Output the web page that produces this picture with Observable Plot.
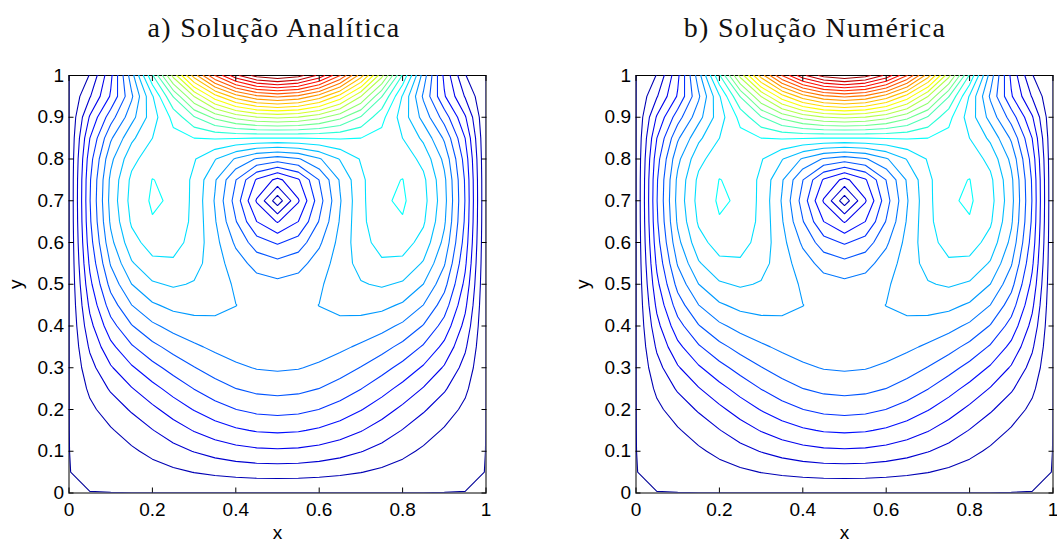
<!DOCTYPE html>
<html>
<head>
<meta charset="utf-8">
<script src="https://cdn.jsdelivr.net/npm/d3@7"></script>
<script src="https://cdn.jsdelivr.net/npm/@observablehq/plot@0.6"></script>
<style>
html, body { margin: 0; padding: 0; background: #fff; width: 1057px; height: 542px; overflow: hidden; }
.panel { position: absolute; top: 0; width: 490px; height: 542px; }
.panel svg { position: absolute; left: 0; top: 50px; overflow: visible; }
.title { position: absolute; top: 14px; font-family: "Liberation Serif", "DejaVu Serif", serif; font-size: 28px; line-height: 1; white-space: nowrap; color: #111; transform: translateX(-50%); letter-spacing: 1.3px; }
</style>
</head>
<body>
<div id="pa" class="panel" style="left:0px"></div>
<div id="pb" class="panel" style="left:567px"></div>
<script>
// Tick values and labels
const xTicks = [0, 0.2, 0.4, 0.6, 0.8, 1];
const xTickLabels = ["0", "0.2", "0.4", "0.6", "0.8", "1"];
const yTicks = [0, 0.1, 0.2, 0.3, 0.4, 0.5, 0.6, 0.7, 0.8, 0.9, 1];
const yTickLabels = ["0", "0.1", "0.2", "0.3", "0.4", "0.5", "0.6", "0.7", "0.8", "0.9", "1"];

// Panel titles
const titles = ["a) Solução Analítica", "b) Solução Numérica"];

// Contour levels (30 levels from 0 to max; the lowest drawn just above 0)
const levels = [0.0002, 0.0345, 0.0690, 0.1034, 0.1379, 0.1724, 0.2069, 0.2414, 0.2759,
  0.3103, 0.3448, 0.3793, 0.4138, 0.4483, 0.4828, 0.5172, 0.5517, 0.5862, 0.6207,
  0.6552, 0.6897, 0.7241, 0.7586, 0.7931, 0.8276, 0.8621, 0.8966, 0.9310, 0.9655];

// Jet colormap
const jetStops = [0, 0.125, 0.375, 0.625, 0.875, 1];
const jetColors = ["#000098", "#0000ff", "#00ffff", "#ffff00", "#ff0000", "#800000"];

// Velocity magnitude on a 21 x 21 grid, x = 0..1 and y = 0..1 step 0.05 (rows bottom -> top)
const gridSize = 21;
const field = [
  [0,0,0,0,0,0,0,0,0,0,0,0,0,0,0,0,0,0,0,0,0],
  [0,.0025,.0071,.0134,.0207,.0282,.0353,.0413,.0459,.0488,.0498,.0488,.0459,.0413,.0353,.0282,.0207,.0134,.0071,.0025,0],
  [0,.0076,.0171,.0292,.0429,.0571,.0704,.0819,.0906,.0961,.0980,.0961,.0906,.0819,.0704,.0571,.0429,.0292,.0171,.0076,0],
  [0,.0159,.0314,.0487,.0677,.0871,.1053,.1210,.1331,.1407,.1433,.1407,.1331,.1210,.1053,.0871,.0677,.0487,.0314,.0159,0],
  [0,.0271,.0503,.0728,.0957,.1185,.1397,.1580,.1721,.1810,.1840,.1810,.1721,.1580,.1397,.1185,.0957,.0728,.0503,.0271,0],
  [0,.0409,.0732,.1012,.1270,.1512,.1733,.1921,.2066,.2157,.2188,.2157,.2066,.1921,.1733,.1512,.1270,.1012,.0732,.0409,0],
  [0,.0567,.0996,.1333,.1612,.1850,.2055,.2225,.2353,.2433,.2460,.2433,.2353,.2225,.2055,.1850,.1612,.1333,.0996,.0567,0],
  [0,.0741,.1285,.1682,.1974,.2193,.2359,.2483,.2572,.2625,.2643,.2625,.2572,.2483,.2359,.2193,.1974,.1682,.1285,.0741,0],
  [0,.0925,.1588,.2046,.2346,.2531,.2636,.2688,.2711,.2719,.2720,.2719,.2711,.2688,.2636,.2531,.2346,.2046,.1588,.0925,0],
  [0,.1109,.1893,.2409,.2712,.2852,.2878,.2833,.2762,.2701,.2678,.2701,.2762,.2833,.2878,.2852,.2712,.2409,.1893,.1109,0],
  [0,.1286,.2184,.2755,.3057,.3145,.3076,.2912,.2717,.2560,.2500,.2560,.2717,.2912,.3076,.3145,.3057,.2755,.2184,.1286,0],
  [0,.1445,.2447,.3066,.3361,.3393,.3224,.2923,.2576,.2287,.2173,.2287,.2576,.2923,.3224,.3393,.3361,.3066,.2447,.1445,0],
  [0,.1577,.2663,.3319,.3605,.3583,.3316,.2875,.2351,.1882,.1680,.1882,.2351,.2875,.3316,.3583,.3605,.3319,.2663,.1577,0],
  [0,.1669,.2814,.3494,.3770,.3704,.3355,.2792,.2091,.1382,.1008,.1382,.2091,.2792,.3355,.3704,.3770,.3494,.2814,.1669,0],
  [0,.1709,.2879,.3569,.3839,.3749,.3360,.2731,.1924,.0999,.0140,.0999,.1924,.2731,.3360,.3749,.3839,.3569,.2879,.1709,0],
  [0,.1684,.2838,.3523,.3800,.3729,.3373,.2797,.2078,.1339,.0938,.1339,.2078,.2797,.3373,.3729,.3800,.3523,.2838,.1684,0],
  [0,.1578,.2670,.3341,.3656,.3679,.3477,.3126,.2719,.2378,.2240,.2378,.2719,.3126,.3477,.3679,.3656,.3341,.2670,.1578,0],
  [0,.1378,.2361,.3027,.3447,.3684,.3793,.3822,.3811,.3791,.3783,.3791,.3811,.3822,.3793,.3684,.3447,.3027,.2361,.1378,0],
  [0,.1072,.1915,.2634,.3288,.3896,.4448,.4917,.5277,.5503,.5580,.5503,.5277,.4917,.4448,.3896,.3288,.2634,.1915,.1072,0],
  [0,.0662,.1418,.2353,.3412,.4500,.5524,.6405,.7080,.7503,.7648,.7503,.7080,.6405,.5524,.4500,.3412,.2353,.1418,.0662,0],
  [0,.0361,.1296,.2601,.4096,.5625,.7056,.8281,.9216,.9801,1.0,.9801,.9216,.8281,.7056,.5625,.4096,.2601,.1296,.0361,0]
];

function drawPanel(el, title, titleCenter) {
  const values = field.flat();
  const half = 0.5 / (gridSize - 1);
  const svg = Plot.plot({
    width: 490,
    height: 492,
    marginTop: 25,
    marginBottom: 49.5,
    marginLeft: 68.5,
    marginRight: 4.5,
    x: {domain: [0, 1]},
    y: {domain: [0, 1]},
    color: {type: "linear", domain: jetStops, range: jetColors},
    style: {fontFamily: "'Liberation Sans', Arial, sans-serif", fontSize: "19px", color: "#000", background: "transparent"},
    marks: [
      Plot.frame({stroke: "#000", strokeWidth: 1}),
      Plot.contour(values, {
        width: gridSize, height: gridSize,
        x1: -half, x2: 1 + half, y1: -half, y2: 1 + half,
        stroke: Plot.identity, fill: "none",
        thresholds: levels, strokeWidth: 1.1, clip: true
      }),
      Plot.axisX({anchor: "bottom", ticks: xTicks, tickSize: -5, tickPadding: 14,
        tickFormat: d => xTickLabels[xTicks.indexOf(d)],
        label: "x", labelAnchor: "center", labelArrow: "none", labelOffset: 46}),
      Plot.axisX({anchor: "top", ticks: xTicks, tickSize: -5, tickFormat: () => "", label: null}),
      Plot.axisY({anchor: "left", ticks: yTicks, tickSize: -5, tickPadding: 10,
        tickFormat: d => yTickLabels[yTicks.indexOf(d)],
        label: "y", labelAnchor: "center", labelArrow: "none", labelOffset: 61}),
      Plot.axisY({anchor: "right", ticks: yTicks, tickSize: -5, tickFormat: () => "", label: null})
    ]
  });
  el.appendChild(svg);
  const t = document.createElement("div");
  t.className = "title";
  t.textContent = title;
  t.style.left = titleCenter + "px";
  el.appendChild(t);
}

drawPanel(document.getElementById("pa"), titles[0], 274);
drawPanel(document.getElementById("pb"), titles[1], 248);
</script>
</body>
</html>
